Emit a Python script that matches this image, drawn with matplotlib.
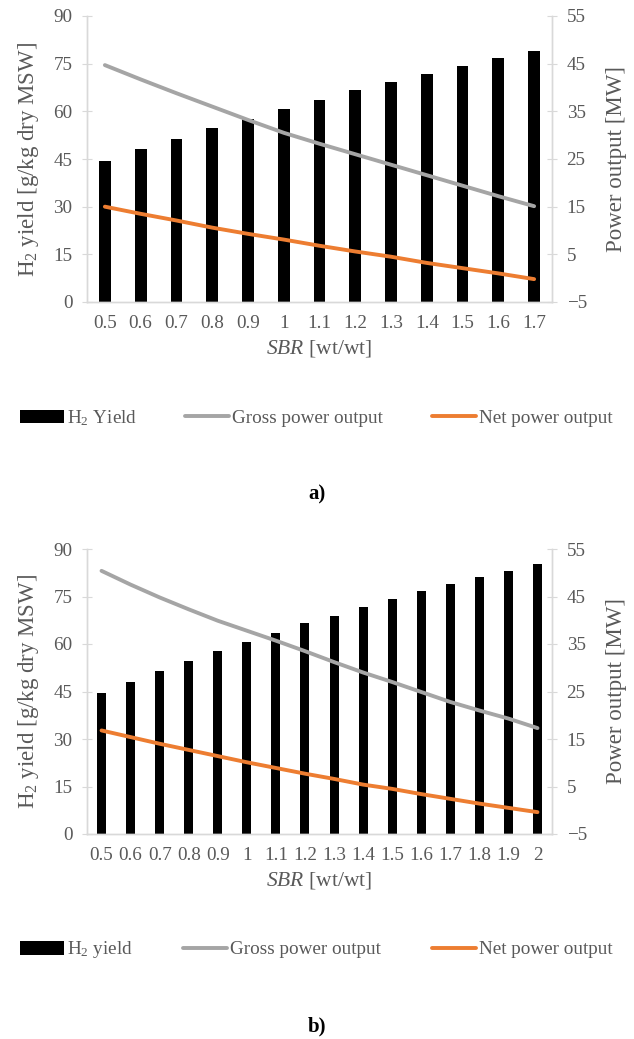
import matplotlib.pyplot as plt

plt.rcParams["font.family"] = ["Liberation Serif", "DejaVu Serif"]
plt.rcParams["mathtext.fontset"] = "custom"
plt.rcParams["mathtext.rm"] = "Liberation Serif"
plt.rcParams["mathtext.it"] = "Liberation Serif:italic"

TEXT = "#595959"
SPINE = "#D9D9D9"
GROSS_C = "#A5A5A5"
NET_C = "#ED7D31"

# panel a)
sbr_a = ["0.5", "0.6", "0.7", "0.8", "0.9", "1", "1.1", "1.2", "1.3", "1.4", "1.5", "1.6", "1.7"]
h2_a = [44.4, 48.0, 51.4, 54.7, 57.6, 60.8, 63.7, 66.6, 69.3, 71.9, 74.4, 76.7, 79.0]
gross_a = [44.7, 41.7, 38.8, 36.0, 33.2, 30.5, 28.2, 26.0, 23.8, 21.6, 19.4, 17.2, 15.1]
net_a = [15.0, 13.5, 12.1, 10.6, 9.3, 8.1, 6.8, 5.6, 4.5, 3.2, 2.1, 1.0, -0.2]

# panel b)
sbr_b = ["0.5", "0.6", "0.7", "0.8", "0.9", "1", "1.1", "1.2", "1.3", "1.4", "1.5", "1.6",
         "1.7", "1.8", "1.9", "2"]
h2_b = [44.4, 48.0, 51.4, 54.5, 57.8, 60.7, 63.6, 66.5, 69.0, 71.7, 74.2, 76.6, 78.9, 81.1, 83.2, 85.2]
gross_b = [50.4, 47.5, 44.8, 42.3, 39.9, 37.8, 35.7, 33.5, 31.2, 29.0, 27.0, 24.9, 22.8, 21.0, 19.3, 17.3]
net_b = [16.8, 15.4, 14.0, 12.7, 11.4, 10.1, 8.9, 7.7, 6.6, 5.4, 4.5, 3.4, 2.4, 1.4, 0.5, -0.4]

W, H = 634, 1039
fig = plt.figure(figsize=(W / 100, H / 100), dpi=100, facecolor="white")


def panel(top_px, bottom_px, cats, h2, gross, net, bar_w, h2_label, tag):
    x0, x1 = 87 / W, 552 / W
    ax = fig.add_axes([x0, 1 - bottom_px / H, x1 - x0, (bottom_px - top_px) / H])
    ax.bar(cats, h2, width=bar_w, color="black", label=h2_label)
    ax.set_ylim(0, 90)
    ax.set_yticks(range(0, 91, 15))
    ax.set_xlim(-0.5, len(cats) - 0.5)
    ax.set_ylabel(r"H$_2$ yield [g/kg dry MSW]", fontsize=16.5, color=TEXT, labelpad=9)
    ax.set_xlabel(r"$\it{SBR}$ [wt/wt]", fontsize=15.5, color=TEXT, labelpad=5)

    ax2 = ax.twinx()
    ax2.plot(cats, gross, color=GROSS_C, lw=2.8, solid_capstyle="round", label="Gross power output")
    ax2.plot(cats, net, color=NET_C, lw=2.8, solid_capstyle="round", label="Net power output")
    ax2.set_ylim(-5, 55)
    ax2.set_yticks(range(-5, 56, 10))
    ax2.set_ylabel("Power output [MW]", fontsize=16.5, color=TEXT, labelpad=14)

    for a in (ax, ax2):
        a.spines["top"].set_visible(False)
        for s in ("left", "right", "bottom"):
            a.spines[s].set_color(SPINE)
            a.spines[s].set_linewidth(1.0)
        a.tick_params(axis="y", direction="inout", length=7, color=SPINE,
                      labelcolor=TEXT, labelsize=13.8, pad=7)
    ax.tick_params(axis="x", length=0, labelcolor=TEXT, labelsize=13.8, pad=9)

    handles = ax.get_legend_handles_labels()[0] + ax2.get_legend_handles_labels()[0]
    labels = ax.get_legend_handles_labels()[1] + ax2.get_legend_handles_labels()[1]
    leg_y = 1 - (bottom_px + 116) / H
    fig.legend(handles, labels, loc="center", ncol=3, mode="expand", frameon=False,
               bbox_to_anchor=(12 / W, leg_y, 608 / W, 0), fontsize=13.8,
               handlelength=2.3, handletextpad=0.15, borderaxespad=0, labelcolor=TEXT)
    fig.text(0.5, 1 - (bottom_px + 192) / H, tag, ha="center", va="center",
             fontsize=15, fontweight="bold")


panel(16, 302, sbr_a, h2_a, gross_a, net_a, 0.33, r"H$_2$ Yield", "a)")
panel(549, 834, sbr_b, h2_b, gross_b, net_b, 0.31, r"H$_2$ yield", "b)")

fig.savefig("out.png", dpi=100, facecolor="white")
